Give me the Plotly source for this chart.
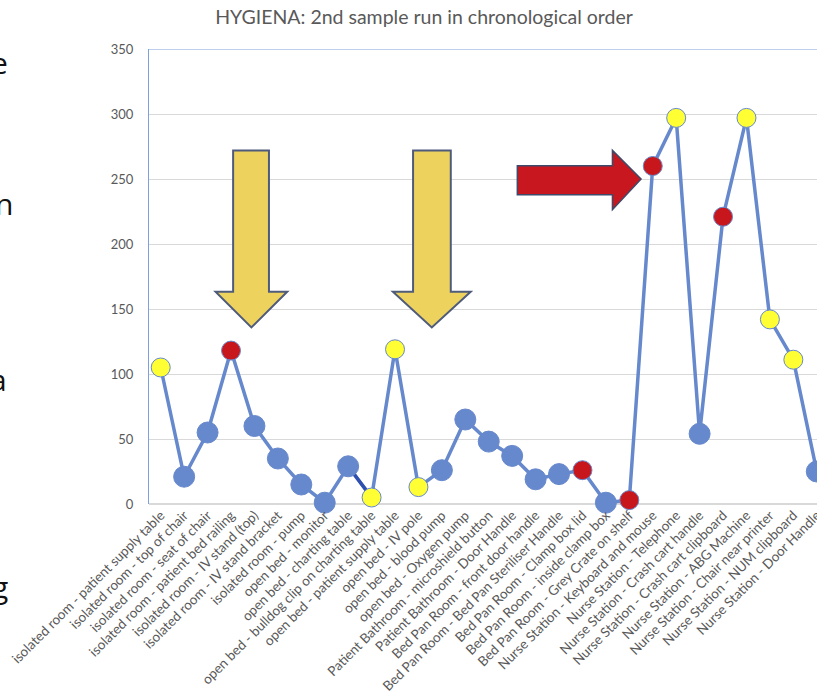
import plotly.graph_objects as go

# Sampling sites, in the order they were swabbed
sites = [
    "isolated room - patient supply table",
    "isolated room - top of chair",
    "isolated room - seat of chair",
    "isolated room - patient bed railing",
    "isolated room - IV stand (top)",
    "isolated room - IV stand bracket",
    "isolated room - pump",
    "open bed - monitor",
    "open bed - charting table",
    "open bed - bulldog clip on charting table",
    "open bed - patient supply table",
    "open bed - IV pole",
    "open bed - blood pump",
    "open bed - Oxygen pump",
    "Patient Bathroom - microshield button",
    "Patient Bathroom - Door Handle",
    "Bed Pan Room - front door handle",
    "Bed Pan Room - Bed Pan Steriliser Handle",
    "Bed Pan Room - Clamp box lid",
    "Bed Pan Room - inside clamp box",
    "Bed Pan Room - Grey Crate on shelf",
    "Nurse Station - Keyboard and mouse",
    "Nurse Station - Telephone",
    "Nurse Station - Crash cart handle",
    "Nurse Station - Crash cart clipboard",
    "Nurse Station - ABG Machine",
    "Nurse Station - Chair near printer",
    "Nurse Station - NUM clipboard",
    "Nurse Station - Door Handle",
]

# ATP readings (RLU)
readings = [105, 21, 55, 118, 60, 35, 15, 1, 29, 5,
            119, 13, 26, 65, 48, 37, 19, 23, 26, 1,
            3, 260, 297, 54, 221, 297, 142, 111, 25]

# Flag per site: "" normal, "y" caution, "r" fail
flags = ["y", "", "", "r", "", "", "", "", "", "y",
         "y", "y", "", "", "", "", "", "", "r", "",
         "r", "r", "y", "", "r", "y", "y", "y", ""]

BLUE = "#6688CC"
YELLOW = "#FFFF33"
RED = "#C8161D"
FRAME = "#7EA0DE"
GRID = "#D9D9D9"
TEXT = "#595959"
FONT = "Lato, 'Open Sans', sans-serif"

idx = list(range(len(sites)))

fill_map = {"": BLUE, "y": YELLOW, "r": RED}
size_map = {"": 21, "y": 19, "r": 19}
marker_colors = [fill_map[f] for f in flags]
marker_sizes = [size_map[f] for f in flags]

fig = go.Figure()

fig.add_trace(go.Scatter(
    x=idx, y=readings, mode="lines",
    line=dict(color=BLUE, width=3.5),
    hoverinfo="skip", showlegend=False, cliponaxis=False,
))

# darker connector between the charting table and the bulldog clip
fig.add_trace(go.Scatter(
    x=idx[8:10], y=readings[8:10], mode="lines",
    line=dict(color="#2F50AE", width=3.5),
    hoverinfo="skip", showlegend=False, cliponaxis=False,
))

fig.add_trace(go.Scatter(
    x=idx, y=readings, mode="markers",
    marker=dict(color=marker_colors, size=marker_sizes, opacity=1,
                line=dict(color=BLUE, width=1)),
    text=sites, hovertemplate="%{text}<br>%{y}<extra></extra>",
    showlegend=False, cliponaxis=False,
))


def down_arrow(x0, x1, hx0, hx1, tip_x, top, neck, tip):
    return (f"M {x0} {top} L {x1} {top} L {x1} {neck} L {hx1} {neck} "
            f"L {tip_x} {tip} L {hx0} {neck} L {x0} {neck} Z")


def right_arrow(left, neck, tip_x, y0, y1, hy0, hy1, tip_y):
    return (f"M {left} {y1} L {neck} {y1} L {neck} {hy1} L {tip_x} {tip_y} "
            f"L {neck} {hy0} L {neck} {y0} L {left} {y0} Z")


shapes = [
    dict(type="path", xref="x", yref="y",
         path=down_arrow(3.09, 4.62, 2.34, 5.40, 3.87, 272, 163.3, 135.8),
         fillcolor="#EDD35E", line=dict(color="#4F5B7A", width=2), layer="above"),
    dict(type="path", xref="x", yref="y",
         path=down_arrow(10.77, 12.38, 9.91, 13.23, 11.57, 272, 163.3, 135.8),
         fillcolor="#EDD35E", line=dict(color="#4F5B7A", width=2), layer="above"),
    dict(type="path", xref="x", yref="y",
         path=right_arrow(15.22, 19.28, 20.50, 237.9, 260.2, 226.4, 272.0, 250.0),
         fillcolor="#C8171E", line=dict(color="#3F4A6A", width=1.5), layer="above"),
    # top edge of the plot frame
    dict(type="line", xref="paper", yref="y", x0=0, x1=1, y0=350, y1=350,
         line=dict(color=FRAME, width=1.2), layer="above"),
]

# large letters running in from the left margin
left_letters = [("e", 10, 62), ("n", 15, 203), ("a", 9, 379), ("g", 10, 586)]
annotations = []
for ch, right_px, mid_px in left_letters:
    annotations.append(dict(
        text=ch, xref="paper", yref="paper", x=0, y=1,
        xanchor="right", yanchor="middle",
        xshift=right_px - 149, yshift=-(mid_px - 49),
        showarrow=False, font=dict(family="'Open Sans', sans-serif", size=30, color="#111111"),
    ))

fig.update_layout(
    width=817, height=698,
    margin=dict(l=149, r=0, t=49, b=194, autoexpand=False),
    paper_bgcolor="white", plot_bgcolor="white",
    font=dict(family=FONT, color=TEXT),
    title=dict(text="HYGIENA: 2nd sample run in chronological order",
               xref="container", x=0.519, xanchor="center",
               yref="container", y=1 - 17 / 698, yanchor="middle",
               font=dict(family=FONT, size=19.5, color=TEXT)),
    xaxis=dict(range=[-0.5, 28.01], tickmode="array", tickvals=idx, ticktext=sites,
               tickangle=-45, showgrid=False, zeroline=False, showline=False,
               ticks="", ticklabeloverflow="allow", automargin=False,
               tickfont=dict(family=FONT, size=13.5, color=TEXT)),
    yaxis=dict(range=[0, 350], dtick=50, showgrid=True, gridcolor=GRID, gridwidth=1,
               zeroline=True, zerolinecolor=GRID, zerolinewidth=1.5,
               showline=True, linecolor=FRAME, linewidth=1.2,
               ticks="", ticklabelstandoff=12, automargin=False,
               tickfont=dict(family=FONT, size=13, color=TEXT)),
    shapes=shapes,
    annotations=annotations,
)

fig.write_html("out.html")
